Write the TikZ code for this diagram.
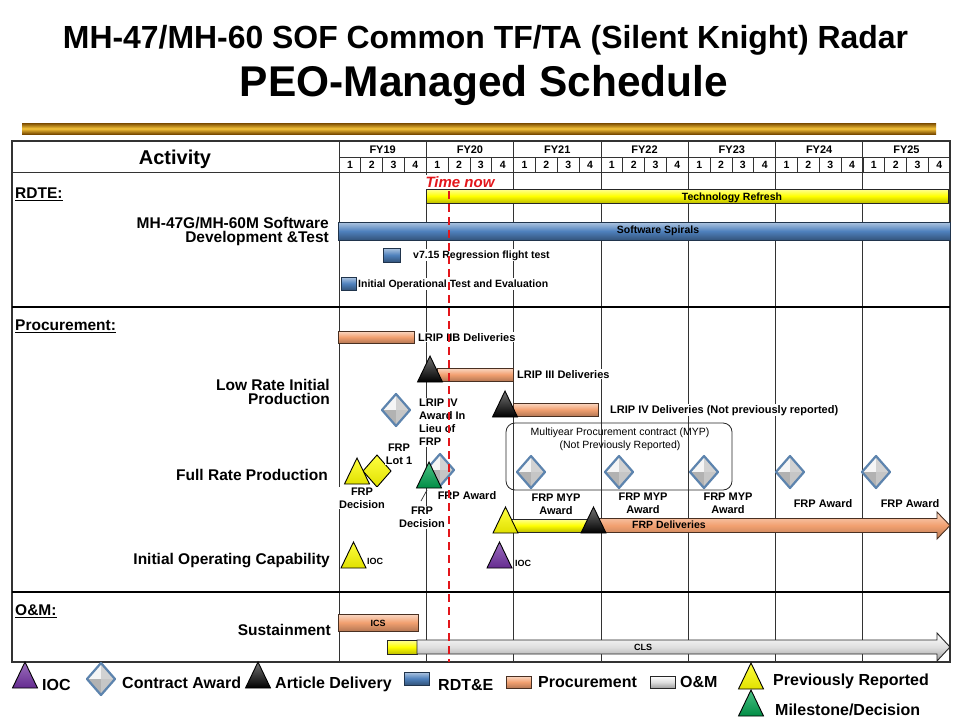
\documentclass[tikz,border=0pt]{standalone}
\usepackage{fontspec}
\setmainfont{Liberation Sans}
\usepackage{graphicx}
\usetikzlibrary{shapes.geometric}
\definecolor{rulegold}{HTML}{F5C33A}
\definecolor{rulebrown}{HTML}{7A4A00}
\definecolor{nowred}{HTML}{E3161B}
\definecolor{rdtblue}{HTML}{4F81BD}
\definecolor{procorange}{HTML}{F2A070}
\definecolor{awdblue}{HTML}{5D84AE}
\definecolor{iocpurple}{HTML}{7030A0}
\definecolor{msgreen}{HTML}{00A651}

% triangle marker: style, x, bottom y
\newcommand{\mtri}[3]{\draw[#1] ({#2-12.5},#3) -- (#2,{#3-26}) -- ({#2+12.5},#3) -- cycle;}
% diamond marker: style, x, y
\newcommand{\mdia}[3]{\draw[#1] (#2,{#3-16}) -- ({#2+14},#3) -- (#2,{#3+16}) -- ({#2-14},#3) -- cycle;}
% contract award: silver faceted diamond at x, y
\newcommand{\mawd}[2]{%
  \fill[white!92!gray] (#1,{#2-16}) -- ({#1-14},#2) -- (#1,#2) -- cycle;
  \fill[gray!35] (#1,{#2-16}) -- ({#1+14},#2) -- (#1,#2) -- cycle;
  \fill[gray!60] ({#1-14},#2) -- (#1,{#2+16}) -- (#1,#2) -- cycle;
  \fill[gray!45] ({#1+14},#2) -- (#1,{#2+16}) -- (#1,#2) -- cycle;
  \mdia{awd}{#1}{#2}}

\begin{document}
\begin{tikzpicture}[x=1pt,y=-1pt,
    side/.style={font=\fontsize{15.5}{14.5}\selectfont\bfseries,inner sep=0pt},
    lbl/.style={font=\fontsize{11}{13}\selectfont\bfseries,inner sep=1pt,fill=white},
    sml/.style={font=\fontsize{10.5}{12.5}\selectfont\bfseries,inner sep=1pt},
    smlbl/.style={font=\fontsize{9}{10}\selectfont\bfseries,inner sep=0pt},
    leg/.style={font=\fontsize{16}{18}\selectfont\bfseries,inner sep=0pt,anchor=base west},
    gridln/.style={black!80,line width=0.8pt},
    barbox/.style={draw=black!80,line width=0.9pt},
    rdtbar/.style={barbox,draw=rdtblue!40!black,top color=rdtblue!45!white,bottom color=rdtblue!65!black,middle color=rdtblue},
    procbar/.style={barbox,draw=procorange!30!black,top color=procorange!40!white,bottom color=procorange!75!black,middle color=procorange},
    yelbar/.style={barbox,draw=black!85,top color=yellow!40!white,bottom color=yellow!75!black,middle color=yellow},
    omsbar/.style={barbox,draw=black!85,top color=white,bottom color=gray!75,middle color=gray!25},
    yeltri/.style={draw=black,line width=0.9pt,top color=yellow!75!white,bottom color=yellow!88!black},
    blktri/.style={draw=black,line width=0.9pt,top color=black!55,bottom color=black},
    grntri/.style={draw=black,line width=0.9pt,top color=msgreen!70!white,bottom color=msgreen!85!black},
    purtri/.style={draw=black,line width=0.9pt,top color=iocpurple!70!white,bottom color=iocpurple!90!black},
    awd/.style={draw=awdblue,line width=2.2pt,line join=round},
    yeldia/.style={draw=black,line width=0.9pt,top color=yellow!75!white,bottom color=yellow!88!black},
    nowln/.style={nowred,line width=2pt,dash pattern=on 8pt off 5pt}]

  \fill[white] (0,0) rectangle (960,720);
  \useasboundingbox (0,0) rectangle (960,720);

  % title
  \node[anchor=base] (title1) at (485.5,48)
    {\resizebox{845pt}{\height}{\fontsize{32}{36}\selectfont\bfseries MH-47/MH-60 SOF Common TF/TA (Silent Knight) Radar}};
  \node[anchor=base] (title2) at (484,96)
    {\resizebox{488pt}{\height}{\fontsize{43}{48}\selectfont\bfseries PEO-Managed Schedule}};
  \shade[top color=rulebrown,bottom color=rulebrown,middle color=rulegold] (22,123) rectangle (936,134);

  % table frame and grid
  \draw[gridln,line width=1.2pt] (12,141) rectangle (950,662);
  \draw[gridln] (339,141) -- (339,662);
  \draw[gridln] (339,157) -- (950,157);
  \draw[gridln] (12,172) -- (950,172);
  \foreach \i in {1,...,6}
    \draw[gridln] ({339+\i*87.3},141) -- ({339+\i*87.3},662);
  \foreach \i in {1,...,27}
    \draw[gridln] ({339+\i*21.83},157) -- ({339+\i*21.83},172);
  \draw[black,line width=2.6pt] (12,307) -- (950,307);
  \draw[black,line width=2.6pt] (12,592) -- (950,592);

  \node[font=\fontsize{20}{22}\selectfont\bfseries,anchor=base] (activity) at (175,164) {Activity};
  \foreach \yr [count=\i from 0] in {19,...,25}
    \node[font=\fontsize{11}{12}\selectfont\bfseries,anchor=base,inner sep=0pt] (fy\yr) at ({339+(\i+0.5)*87.3},153) {FY\yr};
  \foreach \i in {0,...,27}{
    \pgfmathtruncatemacro\qq{mod(\i,4)+1}
    \node[font=\fontsize{10.5}{12}\selectfont\bfseries,anchor=base,inner sep=0pt] (q\i) at ({339+(\i+0.5)*21.83},168.5) {\qq};
  }

  % row labels
  \node[side,anchor=base west] (rdte) at (15,198.5) {\underline{RDTE:}};
  \node[side,anchor=east,align=right] (swdev) at (329,231.5) {MH-47G/MH-60M Software\\Development \&Test};
  \node[side,anchor=base west] (procure) at (15,330.5) {\underline{Procurement:}};
  \node[side,anchor=east,align=right] (lrip) at (330,392) {Low Rate Initial\\Production};
  \node[side,anchor=base east] (frp) at (328,480.5) {Full Rate Production};
  \node[side,anchor=base east] (ioc) at (330,564.5) {Initial Operating Capability};
  \node[side,anchor=base west] (om) at (15,615.5) {\underline{O\&M:}};
  \node[side,anchor=base east] (sust) at (331,635.5) {Sustainment};

  % RDTE
  \draw[yelbar] (426,189) rectangle (948,203);
  \node[sml,anchor=base] (techref) at (732,200) {Technology Refresh};
  \draw[rdtbar] (338,222) rectangle (950,240);
  \node[sml,anchor=base] (spirals) at (658,233) {Software Spirals};
  \draw[rdtbar] (383,248) rectangle (400,262);
  \node[sml,fill=white,anchor=base west] (v715) at (412,258) {v7.15 Regression flight test};
  \draw[rdtbar] (341,277) rectangle (356,290);
  \node[sml,fill=white,anchor=base west] (iote) at (357,287) {Initial Operational Test and Evaluation};

  % procurement: LRIP
  \draw[procbar] (338,331) rectangle (414,343);
  \node[lbl,anchor=base west] (lripiib) at (417,341) {LRIP IIB Deliveries};
  \draw[procbar] (437,368) rectangle (513,381);
  \mtri{blktri}{430}{382}
  \node[lbl,anchor=base west] (lripiii) at (516,378) {LRIP III Deliveries};
  \mawd{396}{410}
  \node[lbl,anchor=west,align=left] (lripivaw) at (418,422.5) {LRIP IV\\Award In\\Lieu of\\FRP};
  \draw[procbar] (513,403) rectangle (598,416);
  \mtri{blktri}{505}{417}
  \node[lbl,anchor=base west] (lripiv) at (609,413) {LRIP IV Deliveries (Not previously reported)};

  % procurement: FRP
  \draw[black!85,line width=0.8pt,rounded corners=9pt] (506,423) rectangle (732,490);
  \node[font=\fontsize{10.5}{13}\selectfont,align=center,inner sep=0pt] (myp) at (620,439.5)
    {Multiyear Procurement contract (MYP)\\(Not Previously Reported)};
  \mdia{yeldia}{377}{471}
  \mtri{yeltri}{357}{484}
  \node[lbl,align=center] (frpdec1) at (362,498) {FRP\\Decision};
  \node[lbl,align=center] (frplot) at (399,454) {FRP\\Lot 1};
  \mawd{440}{470}
  \mtri{grntri}{429}{488}
  \node[lbl,anchor=base] (frpaw1) at (467,499) {FRP Award};
  \draw[black!80,line width=0.7pt] (421,501) -- (427,490);
  \node[lbl,align=center] (frpdec2) at (422,517.5) {FRP\\Decision};
  \mawd{531}{472}
  \mawd{619}{472}
  \mawd{704}{472}
  \mawd{790}{472}
  \mawd{876}{472}
  \node[lbl,align=center] (mypaw1) at (556,504.5) {FRP MYP\\Award};
  \node[lbl,align=center] (mypaw2) at (643,503.5) {FRP MYP\\Award};
  \node[lbl,align=center] (mypaw3) at (728,503.5) {FRP MYP\\Award};
  \node[lbl,anchor=base] (frpaw2) at (823,507) {FRP Award};
  \node[lbl,anchor=base] (frpaw3) at (910,507) {FRP Award};
  \draw[yelbar] (505,519) rectangle (593,532);
  \draw[procbar] (593,518.5) -- (937,518.5) -- (937,512) -- (950,525.5) -- (937,539) -- (937,532.5) -- (593,532.5) -- cycle;
  \mtri{yeltri}{505.5}{533}
  \mtri{blktri}{593.5}{533}
  \node[sml,anchor=base] (frpdel) at (669,528) {FRP Deliveries};

  % IOC
  \mtri{yeltri}{353.5}{568}
  \node[smlbl,anchor=base west] (iocA) at (367,564.5) {IOC};
  \mtri{purtri}{499.5}{568}
  \node[smlbl,anchor=base west] (iocB) at (515,566.5) {IOC};

  % O&M
  \draw[procbar] (338,614) rectangle (418,631);
  \node[smlbl,anchor=base] (ics) at (378,626.5) {ICS};
  \draw[yelbar] (387,640) rectangle (417,654);
  \draw[omsbar] (417,640) -- (937,640) -- (937,633) -- (950,647) -- (937,661) -- (937,654) -- (417,654) -- cycle;
  \node[smlbl,anchor=base] (cls) at (643,650.5) {CLS};

  % time now
  \draw[nowln] (449,191) -- (449,662);
  \node[font=\fontsize{15}{16}\selectfont\bfseries\itshape,text=nowred,fill=white,inner sep=1pt] (timenow) at (460,182) {Time now};

  % legend
  \mtri{purtri}{25}{688}
  \node[leg] (lgioc) at (42,690) {IOC};
  \mawd{101}{679}
  \node[leg] (lgaward) at (122,688) {Contract Award};
  \mtri{blktri}{258}{688}
  \node[leg] (lgdel) at (275,688) {Article Delivery};
  \draw[rdtbar] (404,672) rectangle (429,685);
  \node[leg] (lgrdt) at (438,690) {RDT\&E};
  \draw[procbar] (506,676) rectangle (531,688);
  \node[leg] (lgproc) at (538,687) {Procurement};
  \draw[omsbar] (650,676) rectangle (675,688);
  \node[leg] (lgom) at (680,687) {O\&M};
  \mtri{yeltri}{751}{689}
  \node[leg] (lgprev) at (773,685) {Previously Reported};
  \mtri{grntri}{751}{716}
  \node[leg] (lgmile) at (775,715) {Milestone/Decision};
\end{tikzpicture}
\end{document}
